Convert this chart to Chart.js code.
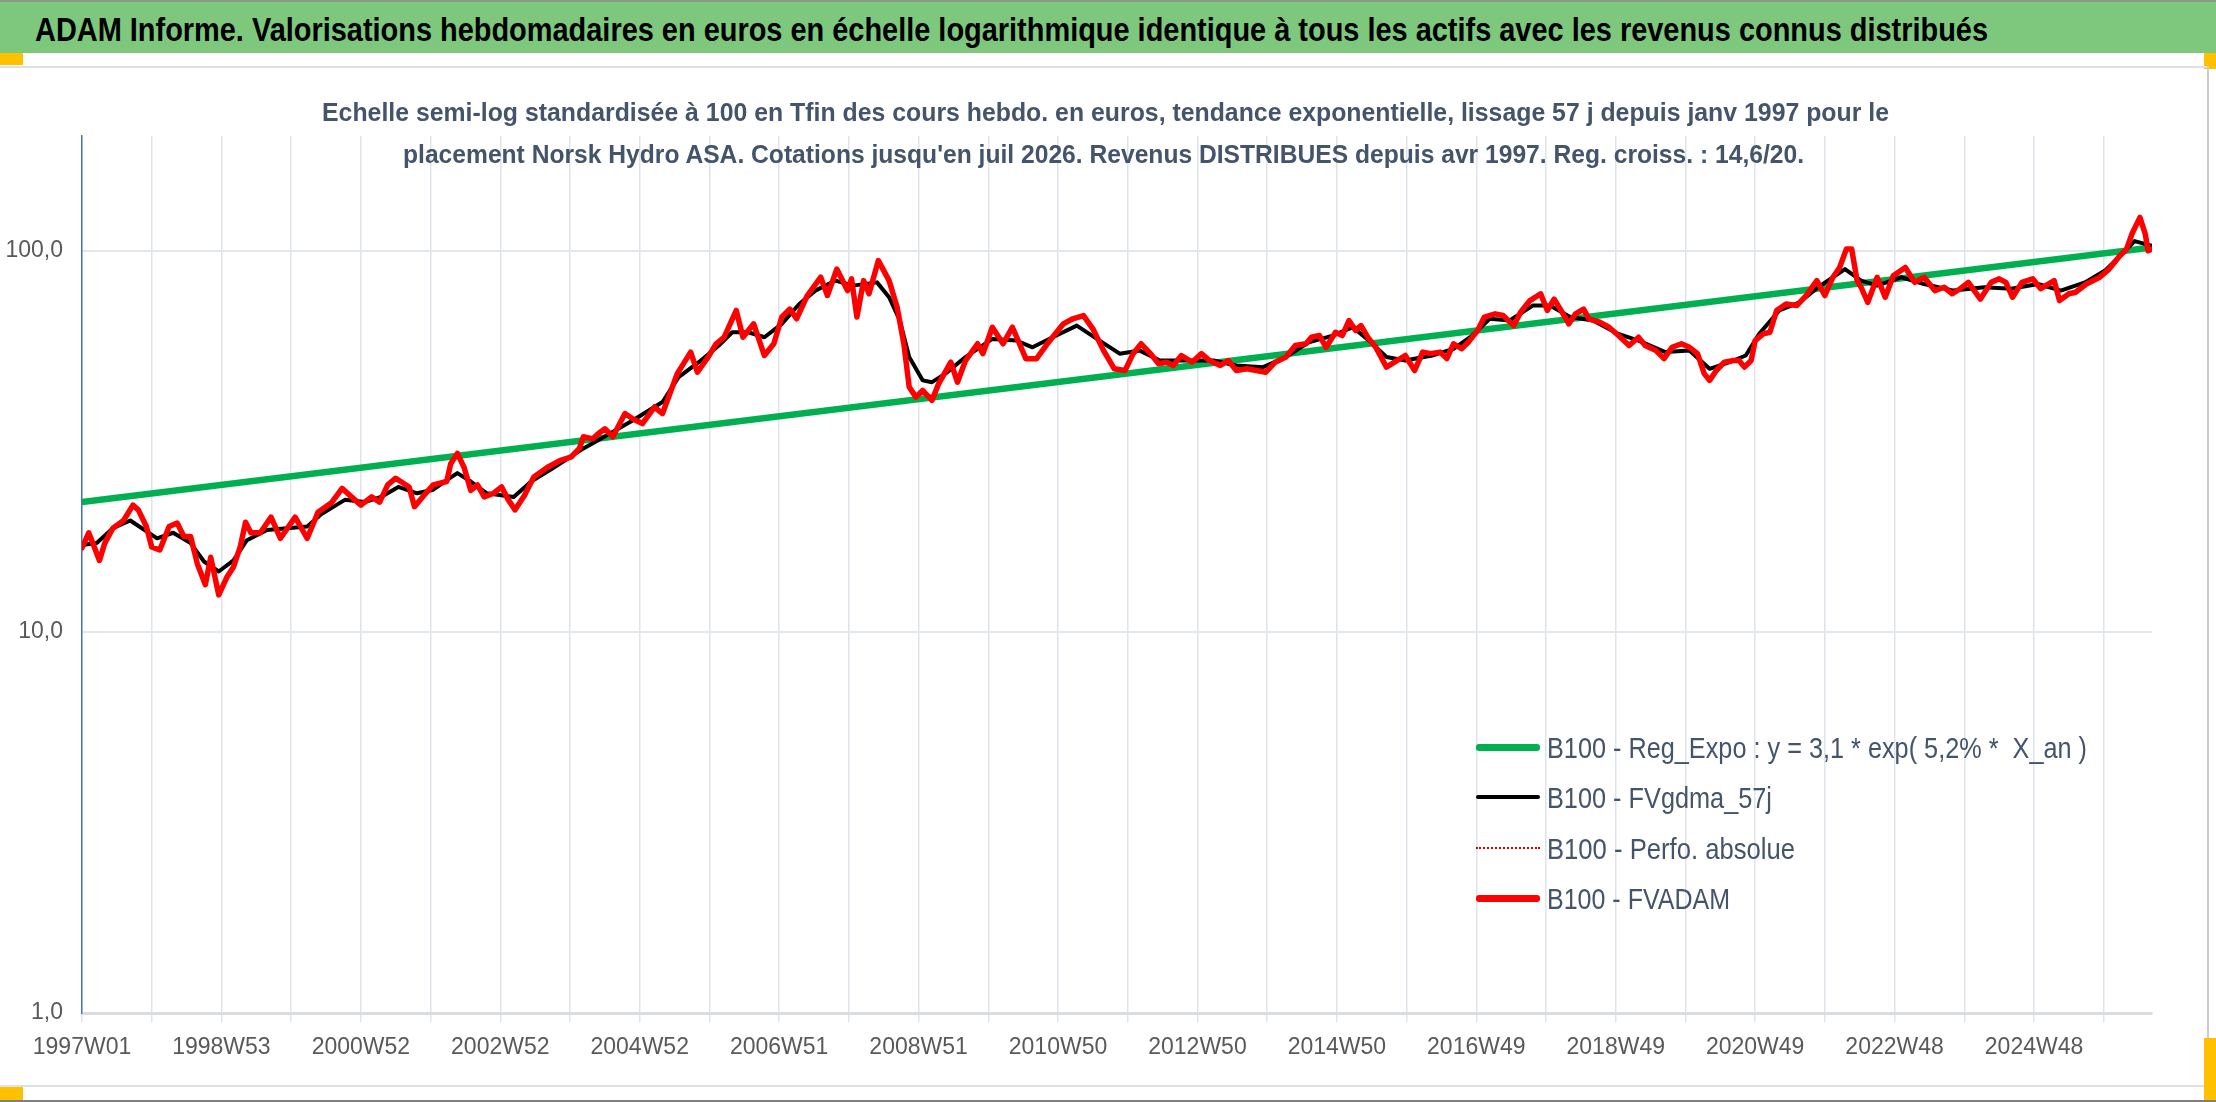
<!DOCTYPE html>
<html>
<head>
<meta charset="utf-8">
<script src="https://cdn.jsdelivr.net/npm/chart.js@4.4.1/dist/chart.umd.min.js"></script>
<style>
  body { margin: 0; width: 2216px; height: 1102px; position: relative; overflow: hidden; background: #fff;
         font-family: "Liberation Sans Narrow", "Liberation Sans", "Noto Sans", sans-serif; }
  #banner { position: absolute; left: 0; top: 0; width: 2216px; height: 53px; background: #7dc87d;
            border-top: 2px solid #8a9a8a; box-sizing: border-box; }
  .txt { position: absolute; white-space: pre; line-height: 1; transform-origin: 0 0; }
  .handle { position: absolute; background: #ffc000; }
  .sample { position: absolute; left: 1476px; width: 64px; border-radius: 3px; }
  #chart { position: absolute; left: 0; top: 67px; }
</style>
</head>
<body>
<div id="banner"></div>
<div class="txt fit" data-w="1953" style="left:35px; top:13px; font-size:33px; font-weight:bold; color:#000;">ADAM Informe. Valorisations hebdomadaires en euros en échelle logarithmique identique à tous les actifs avec les revenus connus distribués</div>

<div class="handle" style="left:0; top:53px; width:23px; height:12px;"></div>
<div class="handle" style="left:2204px; top:53px; width:12px; height:16px;"></div>
<div style="position:absolute; left:0; top:66px; width:2208px; height:2px; background:#dde0e5;"></div>
<div style="position:absolute; left:2207px; top:66px; width:2px; height:1020px; background:#c9ccd1;"></div>
<div style="position:absolute; left:0; top:1085px; width:2208px; height:2px; background:#dde0e5;"></div>
<div class="handle" style="left:0; top:1087px; width:23px; height:13px;"></div>
<div class="handle" style="left:2204px; top:1038px; width:12px; height:62px;"></div>
<div style="position:absolute; left:0; top:1100px; width:2216px; height:2px; background:#7f7f7f;"></div>

<canvas id="chart" width="2190" height="1018"></canvas>

<div class="txt fit" data-w="1567" style="left:322px; top:99px; font-size:26px; font-weight:bold; color:#44546a;">Echelle semi-log standardisée à 100 en Tfin des cours hebdo. en euros, tendance exponentielle, lissage 57 j depuis janv 1997 pour le</div>
<div class="txt fit" data-w="1401" style="left:403px; top:141px; font-size:26px; font-weight:bold; color:#44546a;">placement Norsk Hydro ASA. Cotations jusqu'en juil 2026. Revenus DISTRIBUES depuis avr 1997. Reg. croiss. : 14,6/20.</div>

<div class="sample" style="top:744px; height:7px; background:#00b050;"></div>
<div class="txt fit" data-w="540" style="left:1547px; top:733px; font-size:30px; color:#44546a;">B100 - Reg_Expo : y = 3,1 * exp( 5,2% *  X_an )</div>
<div class="sample" style="top:795px; height:4px; background:#000;"></div>
<div class="txt fit" data-w="225" style="left:1547px; top:783px; font-size:30px; color:#44546a;">B100 - FVgdma_57j</div>
<div class="sample" style="top:847px; height:0; border-top:2px dotted #e00000; border-radius:0;"></div>
<div class="txt fit" data-w="248" style="left:1547px; top:834px; font-size:30px; color:#44546a;">B100 - Perfo. absolue</div>
<div class="sample" style="top:895px; height:7px; background:#ff0000;"></div>
<div class="txt fit" data-w="183" style="left:1547px; top:884px; font-size:30px; color:#44546a;">B100 - FVADAM</div>

<script>
// Semaines (index depuis 1997W01) et valeurs
const xTickLabels = ['1997W01', '1998W53', '2000W52', '2002W52', '2004W52', '2006W51', '2008W51', '2010W50',
                     '2012W50', '2014W50', '2016W49', '2018W49', '2020W49', '2022W48', '2024W48'];
const yTickValues = [1, 10, 100];

// B100 - FVADAM
const fvadamWeeks = [
  0, 5, 8, 13, 17, 23, 31, 38, 42, 48, 52, 58, 65, 71, 76, 81, 86, 92, 96, 102,
  108, 113, 118, 122, 126, 133, 141, 148, 159, 168, 176, 186, 194, 201, 208, 216, 222, 228, 234, 244,
  248, 255, 262, 272, 275, 280, 285, 290, 295, 300, 307, 313, 318, 323, 330, 337, 347, 357, 365, 371,
  374, 381, 385,
  390, 396, 405, 411, 418, 427, 433, 444, 454, 459, 467, 473, 479, 488, 493, 501, 509, 516, 522, 528,
  533, 541, 551, 556, 563, 571, 574, 578, 583, 587, 594, 602, 608, 613, 617, 622, 627, 634, 639, 648,
  653, 659, 668, 672, 679, 687, 694, 704, 712, 720, 732, 739, 747, 754, 762, 770,
  778, 784, 790, 797, 803, 809, 814, 820, 828, 835, 841, 849, 855, 861, 869, 876, 883, 890, 898, 905,
  913, 917, 923, 928, 935, 940, 945, 950, 954, 959, 965, 973, 979, 987, 994, 1000, 1006, 1013, 1018, 1023,
  1029, 1034, 1041, 1046, 1054, 1060, 1068, 1073, 1080, 1088, 1093, 1098, 1104, 1109, 1114, 1120, 1124, 1132, 1139, 1146,
  1154, 1161,
  1166, 1174, 1180, 1186, 1193, 1199, 1205, 1210, 1214, 1219, 1225, 1231, 1236, 1240, 1245, 1248, 1254, 1259, 1264, 1271,
  1279, 1286, 1294, 1300, 1306, 1311, 1316, 1320, 1324, 1327, 1332, 1339, 1345, 1351, 1360, 1367, 1374, 1382, 1389, 1395,
  1401, 1407, 1416, 1424, 1430, 1435, 1440, 1447, 1455, 1461, 1471, 1475, 1482, 1487, 1495, 1505, 1512, 1520, 1525, 1529,
  1535, 1539, 1541, 1544
];
const fvadamValues = [
  16.6, 18.2, 17.1, 15.4, 17.1, 18.7, 19.6, 21.5, 20.9, 18.9, 16.7, 16.4, 18.9, 19.3, 17.8, 17.8, 15.1, 13.3, 15.7, 12.5,
  13.9, 14.8, 16.7, 19.4, 18.2, 18.2, 20.0, 17.6, 20.0, 17.6, 20.6, 21.8, 23.8, 22.6, 21.5, 22.6, 21.9, 24.3, 25.3, 24.0,
  21.3, 22.8, 24.3, 24.8, 27.6, 29.4, 27.0, 23.5, 24.3, 22.6, 23.1, 24.0, 22.2, 20.9, 22.8, 25.5, 27.0, 28.2, 28.8, 30.3,
  32.5, 32.1, 33.1,
  34.1, 32.5, 37.4, 36.2, 35.2, 38.9, 37.4, 47.6, 54.2, 48.0, 52.6, 57.0, 59.3, 69.7, 59.3, 64.3, 53.1, 57.0, 67.0, 70.3,
  66.3, 76.3, 85.2, 76.3, 89.5, 78.6, 84.4, 67.0, 83.5, 77.1, 94.2, 83.5, 71.1, 57.0, 43.9, 41.3, 43.0, 40.5, 44.8, 51.0,
  45.2, 51.5, 57.0, 53.7, 63.0, 57.0, 63.0, 52.1, 52.1, 57.0, 64.3, 66.3, 67.6, 62.4, 54.7, 49.0,
  48.5, 53.7, 57.0, 53.7, 50.5, 51.0, 50.0, 53.1, 51.0, 53.7, 51.5, 50.0, 51.5, 48.5, 49.0, 48.5, 48.0, 51.0, 52.6, 56.4,
  57.0, 59.3, 59.9, 55.8, 61.1, 59.9, 65.6, 61.8, 63.6, 59.3, 55.8, 49.5, 51.0, 53.1, 48.5, 54.2, 53.7, 54.2, 52.1, 57.0,
  55.3, 57.5, 61.8, 67.0, 68.3, 67.6, 63.6, 69.0, 74.0, 77.1, 69.7, 74.7, 69.0, 64.3, 68.3, 70.3, 66.3, 65.0, 63.0, 59.9,
  56.4, 59.3,
  56.4, 54.7, 52.1, 55.8, 57.0, 55.8, 53.7, 47.6, 45.7, 48.5, 51.0, 51.5, 51.5, 49.5, 51.5, 58.1, 60.5, 61.1, 69.7, 72.5,
  71.8, 76.3, 83.5, 76.3, 85.2, 90.4, 101, 101, 83.5, 80.2, 73.2, 85.2, 75.5, 86.0, 90.4, 82.6, 85.2, 78.6, 80.2, 77.1,
  79.5, 82.6, 74.7, 82.6, 84.4, 82.6, 75.5, 82.6, 84.4, 79.5, 83.5, 74.0, 77.1, 77.8, 81.8, 85.2, 89.5, 97.0, 101, 110.6,
  122.3, 110.6, 100, 101
];

// B100 - FVgdma_57j (lissage)
const gdmaWeeks = [
  0, 11, 23, 36, 56, 68, 81, 91, 102, 113, 123, 138, 153, 168, 178, 196, 211, 223, 236, 250,
  262, 272, 280, 290, 302, 322, 335, 352, 372, 385,
  411, 433, 445, 460, 475, 485, 497, 509, 522, 535, 547, 562, 575, 593, 602, 610, 617, 627, 634, 644,
  659, 679, 697, 709, 724, 742, 759, 774,
  789, 804, 824, 844, 861, 881, 898, 915, 933, 948, 960, 973, 987, 1007, 1023, 1037, 1050, 1065, 1082, 1095,
  1110, 1127, 1146, 1161,
  1181, 1199, 1214, 1229, 1241, 1251, 1266, 1281, 1295, 1315, 1327, 1339, 1357, 1374, 1396, 1419, 1439, 1459, 1476, 1494,
  1509, 1519, 1531, 1544
];
const gdmaValues = [
  16.9, 17.1, 18.7, 19.6, 17.6, 18.2, 17.1, 15.3, 14.4, 15.4, 17.4, 18.5, 18.7, 18.9, 20.3, 22.2, 21.9, 22.6, 24.0, 23.1,
  23.6, 25.0, 26.1, 24.8, 23.1, 22.6, 24.8, 27.0, 30.0, 31.8,
  35.9, 40.1, 46.6, 51.0, 56.4, 61.1, 61.1, 59.3, 64.3, 72.5, 78.6, 83.5, 81.0, 82.6, 75.5, 65.6, 52.6, 45.7, 45.2, 47.6,
  52.6, 58.7, 58.1, 55.8, 59.3, 63.6, 58.1, 53.7,
  54.7, 51.5, 51.5, 51.5, 50.0, 49.5, 52.6, 57.5, 59.9, 63.0, 58.1, 52.6, 51.5, 53.1, 55.3, 59.9, 66.3, 65.6, 71.8, 71.8,
  67.0, 65.6, 60.5, 58.1,
  54.2, 54.7, 49.0, 51.0, 53.1, 60.5, 69.7, 73.2, 80.2, 89.5, 83.5, 81.0, 85.2, 81.8, 78.6, 80.2, 79.5, 81.8, 78.6, 82.6,
  88.7, 96, 106, 103
];

// B100 - Reg_Expo (droite en semi-log)
const regWeeks = [0, 1544];
const regValues = [21.9, 102];

const lastWeek = 1544;
const fontFamily = '"Liberation Sans Narrow", "Liberation Sans", "Noto Sans", sans-serif';

const toPoints = (weeks, values) => weeks.map((w, i) => ({ x: w, y: values[i] }));

const lineDataset = (label, data, color, width, extra) => Object.assign({
    label,
    data,
    borderColor: color,
    backgroundColor: color,
    borderWidth: width,
    pointRadius: 0,
    tension: 0,
    fill: false,
    borderJoinStyle: 'round',
    borderCapStyle: 'round'
}, extra || {});

const ctx = document.getElementById('chart').getContext('2d');
new Chart(ctx, {
    type: 'line',
    data: {
        datasets: [
            lineDataset('B100 - FVADAM', toPoints(fvadamWeeks, fvadamValues), '#ff0000', 5.5, { order: 0 }),
            lineDataset('B100 - Perfo. absolue', toPoints(fvadamWeeks, fvadamValues), '#e00000', 1.5,
                        { order: 1, borderDash: [2, 3] }),
            lineDataset('B100 - FVgdma_57j', toPoints(gdmaWeeks, gdmaValues), '#000000', 4, { order: 2 }),
            lineDataset('B100 - Reg_Expo : y = 3,1 * exp( 5,2% *  X_an )', toPoints(regWeeks, regValues), '#00b050', 6.5,
                        { order: 3 })
        ]
    },
    options: {
        responsive: false,
        animation: false,
        devicePixelRatio: 1,
        layout: { padding: { left: 0, right: 38, top: 69, bottom: 0 } },
        plugins: {
            legend: { display: false },
            title: { display: false },
            tooltip: { enabled: false }
        },
        scales: {
            x: {
                type: 'linear',
                min: 0,
                max: lastWeek,
                afterFit: scale => { scale.height = 72; },
                afterBuildTicks: axis => {
                    const ticks = [];
                    for (let v = 0; v <= lastWeek; v += 52) ticks.push({ value: v });
                    axis.ticks = ticks;
                },
                ticks: {
                    autoSkip: false,
                    maxRotation: 0,
                    padding: 12,
                    color: '#595959',
                    font: { family: fontFamily, size: 23 },
                    callback: value => (value % 104 === 0 ? (xTickLabels[value / 104] || '') : '')
                },
                grid: { color: '#dfe3ea', lineWidth: 1.5, tickLength: 9, tickColor: '#dfe3ea' },
                border: { color: '#d9dce1', width: 3 }
            },
            y: {
                type: 'logarithmic',
                min: 1,
                max: 200,
                afterFit: scale => { scale.width = 82; },
                afterBuildTicks: axis => {
                    axis.ticks = yTickValues.map(v => ({ value: v }));
                },
                ticks: {
                    padding: 19,
                    color: '#595959',
                    font: { family: fontFamily, size: 23 },
                    callback: value => value.toFixed(1).replace('.', ',')
                },
                grid: { color: '#e3e6eb', lineWidth: 2, drawTicks: false },
                border: { color: '#4472c4', width: 1.5 }
            }
        }
    }
});

// Ajuster la largeur des textes sur celle de l'original
const fitTexts = () => {
    document.querySelectorAll('.fit').forEach(el => {
        el.style.transform = 'none';
        const w = el.getBoundingClientRect().width;
        const target = parseFloat(el.dataset.w);
        if (w > 0) el.style.transform = `scaleX(${target / w})`;
    });
};
fitTexts();
if (document.fonts) document.fonts.ready.then(fitTexts);
</script>
</body>
</html>
